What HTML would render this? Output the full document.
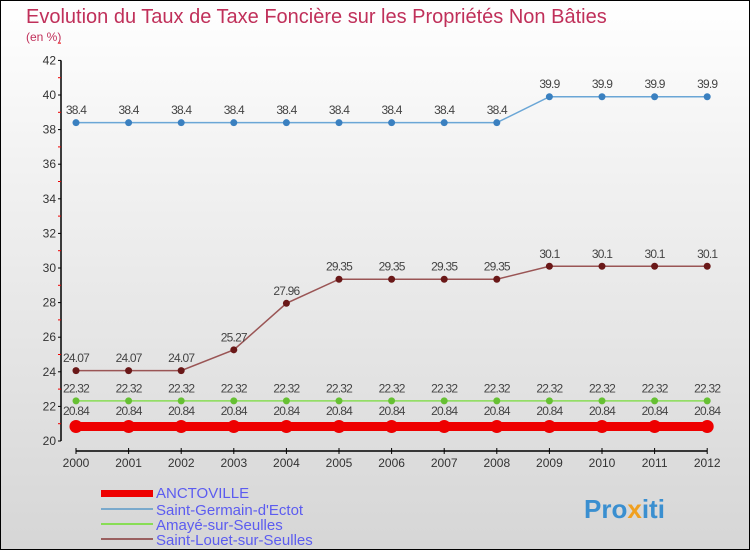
<!DOCTYPE html>
<html><head><meta charset="utf-8"><style>
body{margin:0}
#c{width:748px;height:548px;border:1px solid #000;background:linear-gradient(#ffffff,#f2f2f2 30%,#d6d6d6);position:relative;font-family:"Liberation Sans",sans-serif;overflow:hidden}
text{font-family:"Liberation Sans",sans-serif}
</style></head><body>
<div id="c">
<svg id="s" width="748" height="548">
<text x="25" y="22" font-size="20" fill="#c0305a">Evolution du Taux de Taxe Foncière sur les Propriétés Non Bâties</text>
<text x="25" y="40" font-size="12" fill="#c0305a">(en %)</text>
<g id="g"></g>
<g>
<rect x="100" y="489" width="52" height="7" fill="#e00"/>
<text x="155" y="497" font-size="15" fill="#5c5cf0">ANCTOVILLE</text>
<rect x="100" y="507" width="52" height="2" fill="#7aa9cc"/>
<text x="155" y="514" font-size="15" fill="#5c5cf0">Saint-Germain-d'Ectot</text>
<rect x="100" y="522" width="52" height="2" fill="#88dd55"/>
<text x="155" y="529" font-size="15" fill="#5c5cf0">Amayé-sur-Seulles</text>
<rect x="100" y="537" width="52" height="2" fill="#9a6060"/>
<text x="155" y="544" font-size="15" fill="#5c5cf0">Saint-Louet-sur-Seulles</text>
</g>
<text x="583" y="517" font-size="26" font-weight="bold" fill="#3a8fd0">Pro<tspan fill="#f0a020">x</tspan>iti</text>
</svg>
</div>
<script>
const years=[2000,2001,2002,2003,2004,2005,2006,2007,2008,2009,2010,2011,2012];
const anctoville=[20.84,20.84,20.84,20.84,20.84,20.84,20.84,20.84,20.84,20.84,20.84,20.84,20.84];
const saintGermain=[38.4,38.4,38.4,38.4,38.4,38.4,38.4,38.4,38.4,39.9,39.9,39.9,39.9];
const amaye=[22.32,22.32,22.32,22.32,22.32,22.32,22.32,22.32,22.32,22.32,22.32,22.32,22.32];
const saintLouet=[24.07,24.07,24.07,25.27,27.96,29.35,29.35,29.35,29.35,30.1,30.1,30.1,30.1];
const yTicks=[20,22,24,26,28,30,32,34,36,38,40,42];
const NS="http://www.w3.org/2000/svg";
const g=document.getElementById('g');
const X=i=>75+i*52.6;
const Y=v=>440-(v-20)*17.3;
function mk(t,a,p){const e=document.createElementNS(NS,t);for(const k in a)e.setAttribute(k,a[k]);(p||g).appendChild(e);return e;}
let ax=mk('line',{x1:60,y1:Y(42),x2:60,y2:Y(20),stroke:'#000','stroke-width':1.5});


yTicks.forEach(v=>{
 mk('line',{x1:57,x2:60,y1:Y(v),y2:Y(v),stroke:'#000'});
 mk('line',{x1:57,x2:60,y1:Y(v+1),y2:Y(v+1),stroke:'#e00'});
 let t=mk('text',{x:55,y:Y(v)+4,'font-size':12,fill:'#333','text-anchor':'end'});t.textContent=v;
 
 
});
let xa=mk('line',{x1:X(0),x2:X(12),y1:450,y2:450,stroke:'#000','stroke-width':1.5});


years.forEach((y,i)=>{
 mk('line',{x1:X(i),x2:X(i),y1:447,y2:453,stroke:'#000'});
 let t=mk('text',{x:X(i),y:466,'font-size':12,fill:'#333','text-anchor':'middle'});t.textContent=y;
 
 
});
function series(d,col,dot,w,r,name,lab){
 const sg=mk('g',{});
 
 
 let p=mk('polyline',{points:d.map((v,i)=>X(i)+','+Y(v)).join(' '),fill:'none',stroke:col,'stroke-width':w},sg);
 
 
 d.forEach((v,i)=>{
  let c=mk('circle',{cx:X(i),cy:Y(v),r:r,fill:dot},sg);
  
  
  let t=mk('text',{x:X(i),y:Y(v)-(r+5),'font-size':12,fill:'#444','text-anchor':'middle','letter-spacing':'-0.8'},sg);
  t.textContent=v;
  
  
 });
}
series(saintGermain,'#6aa6d6','#3a80c0',1.5,3.5,'saint-germain');
series(saintLouet,'#9a5555','#6a1818',1.5,3.5,'saint-louet');
series(amaye,'#88dd55','#66c033',1.5,3.5,'amaye');
series(anctoville,'#ee0000','#ee0000',9,6.5,'anctoville');
</script>
</body></html>
